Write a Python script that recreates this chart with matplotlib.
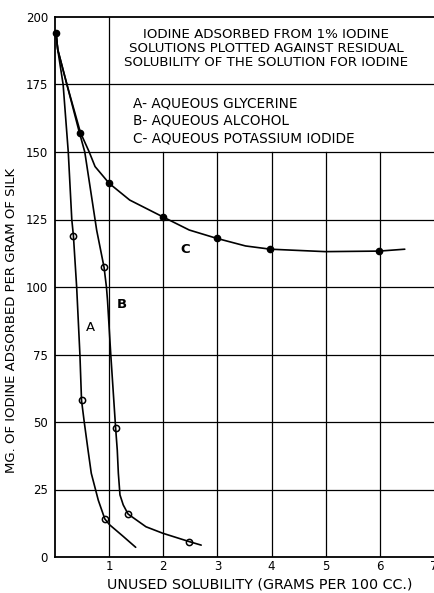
import matplotlib
matplotlib.use("Agg")
import matplotlib.pyplot as plt

# ---- data ----
# traced curve A (aqueous glycerine)
a_x = [0.02, 0.05, 0.15, 0.245, 0.31, 0.34, 0.40, 0.46, 0.49, 0.54, 0.61, 0.67, 0.80, 0.92, 1.01, 1.25, 1.49]
a_y = [194, 188, 175, 150, 125, 119, 100, 75, 58, 50, 39.6, 31, 21, 14.1, 11.9, 7.8, 3.6]
a_pts_x = [0.34, 0.49, 0.92]
a_pts_y = [119, 58, 14.1]

# traced curve B (aqueous alcohol)
b_x = [0.02, 0.05, 0.22, 0.44, 0.55, 0.77, 0.906, 0.95, 0.97, 1.03, 1.12, 1.15, 1.17, 1.20, 1.26, 1.35, 1.68, 1.99, 2.48, 2.70]
b_y = [194, 188, 175, 158, 150, 121, 107.3, 100, 95, 75, 47.7, 39.6, 31, 23, 19.3, 15.9, 11.2, 8.8, 5.7, 4.4]
b_pts_x = [0.906, 1.12, 1.35, 2.48]
b_pts_y = [107.3, 47.7, 15.9, 5.7]

# traced curve C (aqueous potassium iodide)
c_x = [0.02, 0.05, 0.22, 0.47, 0.63, 0.74, 1.00, 1.38, 1.99, 2.48, 2.99, 3.52, 3.98, 4.99, 5.99, 6.46]
c_y = [194, 188, 175, 157.2, 150.1, 144.6, 138.4, 132.2, 126, 121.1, 118, 115.2, 114.0, 113.1, 113.3, 114]
c_pts_x = [0.02, 0.47, 1.00, 1.99, 2.99, 3.98, 5.99]
c_pts_y = [194, 157.2, 138.4, 126, 118, 114, 113.3]

x_ticks = [1, 2, 3, 4, 5, 6, 7]
y_ticks = [0, 25, 50, 75, 100, 125, 150, 175, 200]

title_lines = ["IODINE ADSORBED FROM 1% IODINE",
               "SOLUTIONS PLOTTED AGAINST RESIDUAL",
               "SOLUBILITY OF THE SOLUTION FOR IODINE"]
legend_lines = ["A- AQUEOUS GLYCERINE",
                "B- AQUEOUS ALCOHOL",
                "C- AQUEOUS POTASSIUM IODIDE"]
xlabel = "UNUSED SOLUBILITY (GRAMS PER 100 CC.)"
ylabel = "MG. OF IODINE ADSORBED PER GRAM OF SILK"

# ---- figure ----
W, H = 434, 593
fig = plt.figure(figsize=(W / 100, H / 100), dpi=100)
plt.rcParams['font.family'] = ['DejaVu Sans']
ax = fig.add_axes([55 / W, (H - 557) / H, (W - 55) / W, 540 / H])
ax.set_xlim(0, 7)
ax.set_ylim(0, 200)

gk = dict(color='black', lw=0.9, zorder=1)
for yv in y_ticks[1:-1]:
    ax.axhline(yv, **gk)
for xv in x_ticks[1:-1]:
    ax.plot([xv, xv], [0, 150], **gk)
ax.plot([1, 1], [0, 200], **gk)
ax.plot([7, 7], [0, 150], color='#999999', lw=0.6, ls=(0, (3, 3)), zorder=1)

for s in ['left', 'top', 'bottom']:
    ax.spines[s].set_linewidth(1.3)
ax.spines['right'].set_visible(False)

lk = dict(color='black', lw=1.2, zorder=3, solid_capstyle='round', solid_joinstyle='round')
ax.plot(a_x, a_y, **lk)
ax.plot(b_x, b_y, **lk)
ax.plot(c_x, c_y, **lk)

ax.plot(a_pts_x, a_pts_y, 'o', ms=4.5, mfc='none', mec='black', mew=1.1, zorder=4)
ax.plot(b_pts_x, b_pts_y, 'o', ms=4.5, mfc='none', mec='black', mew=1.1, zorder=4)
ax.plot(c_pts_x, c_pts_y, 'o', ms=4.5, mfc='black', mec='black', zorder=4, clip_on=False)

ax.set_xticks(x_ticks)
ax.set_xticklabels([str(v) for v in x_ticks])
ax.set_yticks(y_ticks)
ax.set_yticklabels([str(v) for v in y_ticks])
ax.tick_params(axis='both', length=0, labelsize=8.5)
ax.tick_params(axis='y', pad=5)
ax.tick_params(axis='x', pad=2)

fig.text(260 / W, 1 - 584 / H, xlabel, ha='center', va='center', fontsize=10.3)
fig.text(12 / W, 1 - 320 / H, ylabel, ha='center', va='center', rotation=90, fontsize=9.5)

for i, t in enumerate(title_lines):
    fig.text(266 / W, 1 - (34 + 14.5 * i) / H, t, ha='center', va='center', fontsize=9.6)
for i, t in enumerate(legend_lines):
    fig.text(133 / W, 1 - (103 + 17.5 * i) / H, t, ha='left', va='center', fontsize=9.8)

ax.text(0.66, 85, "A", ha='center', va='center', fontsize=9.5)
ax.text(1.24, 93.7, "B", ha='center', va='center', fontsize=9.5, fontweight='bold')
ax.text(2.41, 114, "C", ha='center', va='center', fontsize=9.5, fontweight='bold')

fig.savefig("out.png", dpi=100)
